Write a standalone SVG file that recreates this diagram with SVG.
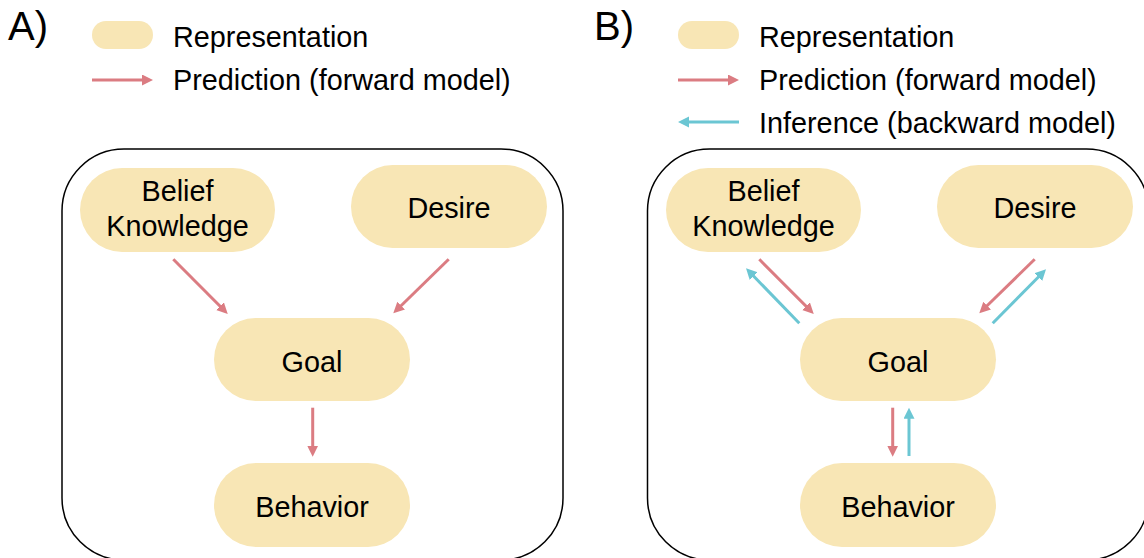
<svg xmlns="http://www.w3.org/2000/svg" width="1144" height="558" viewBox="0 0 1144 558">
<defs>
<style>
text{font-family:"Liberation Sans",Arial,Helvetica,sans-serif;fill:#000}
.lbl{font-size:28.8px}
.node{font-size:28.8px;text-anchor:middle}
.panel{font-size:40px}
.pill{fill:#F8E6B5}
.frame{fill:none;stroke:#000;stroke-width:1.5}
.pred{stroke:#DB7C82;stroke-width:3;fill:none;marker-end:url(#ahRed)}
.inf{stroke:#6BC6D3;stroke-width:3;fill:none;marker-end:url(#ahBlue)}
</style>
<marker id="ahRed" markerUnits="userSpaceOnUse" markerWidth="12" markerHeight="12" refX="3" refY="5.5" orient="auto">
<path d="M0,0 L11,5.5 L0,11 z" fill="#DB7C82"/>
</marker>
<marker id="ahBlue" markerUnits="userSpaceOnUse" markerWidth="12" markerHeight="12" refX="3" refY="5.5" orient="auto">
<path d="M0,0 L11,5.5 L0,11 z" fill="#6BC6D3"/>
</marker>
</defs>
<rect width="1144" height="558" fill="#fff"/>

<!-- Panel A legend -->
<g id="legendA">
<text class="panel" x="8" y="40">A)</text>
<rect class="pill" x="92" y="21" width="61" height="28" rx="14"/>
<text class="lbl" x="173" y="47">Representation</text>
<line class="pred" x1="92" y1="80" x2="145" y2="80"/>
<text class="lbl" x="173" y="90">Prediction (forward model)</text>
</g>

<!-- Panel B legend -->
<g id="legendB">
<text class="panel" x="594" y="40">B)</text>
<rect class="pill" x="678" y="21" width="61" height="28" rx="14"/>
<text class="lbl" x="759" y="47">Representation</text>
<line class="pred" x1="678" y1="80" x2="731" y2="80"/>
<text class="lbl" x="759" y="90">Prediction (forward model)</text>
<line class="inf" x1="739" y1="122" x2="686" y2="122"/>
<text class="lbl" x="759" y="133">Inference (backward model)</text>
</g>

<!-- Frames -->
<rect id="frameA" class="frame" x="62" y="149" width="501" height="411" rx="62"/>
<rect id="frameB" class="frame" x="647.5" y="149" width="501" height="411" rx="62"/>

<!-- Panel A nodes -->
<g id="A_belief">
<rect class="pill" x="80" y="168" width="195" height="84" rx="42"/>
<text class="node" x="177.5" y="201">Belief</text>
<text class="node" x="177.5" y="236">Knowledge</text>
</g>
<g id="A_desire">
<rect class="pill" x="351" y="165" width="196" height="83" rx="41.5"/>
<text class="node" x="449" y="218">Desire</text>
</g>
<g id="A_goal">
<rect class="pill" x="214" y="318" width="196" height="83" rx="41.5"/>
<text class="node" x="312" y="372">Goal</text>
</g>
<g id="A_behavior">
<rect class="pill" x="214" y="463" width="196" height="84" rx="42"/>
<text class="node" x="312" y="517">Behavior</text>
</g>

<!-- Panel B nodes -->
<g id="B_belief">
<rect class="pill" x="666" y="168" width="195" height="84" rx="42"/>
<text class="node" x="763.5" y="201">Belief</text>
<text class="node" x="763.5" y="236">Knowledge</text>
</g>
<g id="B_desire">
<rect class="pill" x="937" y="165" width="196" height="83" rx="41.5"/>
<text class="node" x="1035" y="218">Desire</text>
</g>
<g id="B_goal">
<rect class="pill" x="800" y="318" width="196" height="83" rx="41.5"/>
<text class="node" x="898" y="372">Goal</text>
</g>
<g id="B_behavior">
<rect class="pill" x="800" y="463" width="196" height="84" rx="42"/>
<text class="node" x="898" y="517">Behavior</text>
</g>

<!-- Connectors -->
<g id="connectors">
<line class="pred" x1="173.3" y1="259.3" x2="222.1" y2="308.3"/>
<line class="pred" x1="448.7" y1="259.3" x2="399" y2="307.7"/>
<line class="pred" x1="312.7" y1="407.7" x2="312.7" y2="448.7"/>

<line class="pred" x1="759.3" y1="259.3" x2="808.1" y2="308.3"/>
<line class="inf" x1="799.3" y1="323.3" x2="751.6" y2="274"/>
<line class="pred" x1="1034.7" y1="259.3" x2="985" y2="307.7"/>
<line class="inf" x1="992.7" y1="323.3" x2="1040.4" y2="275"/>
<line class="pred" x1="892.7" y1="407.7" x2="892.7" y2="448.7"/>
<line class="inf" x1="909" y1="456" x2="909" y2="415.7"/>
</g>
</svg>
